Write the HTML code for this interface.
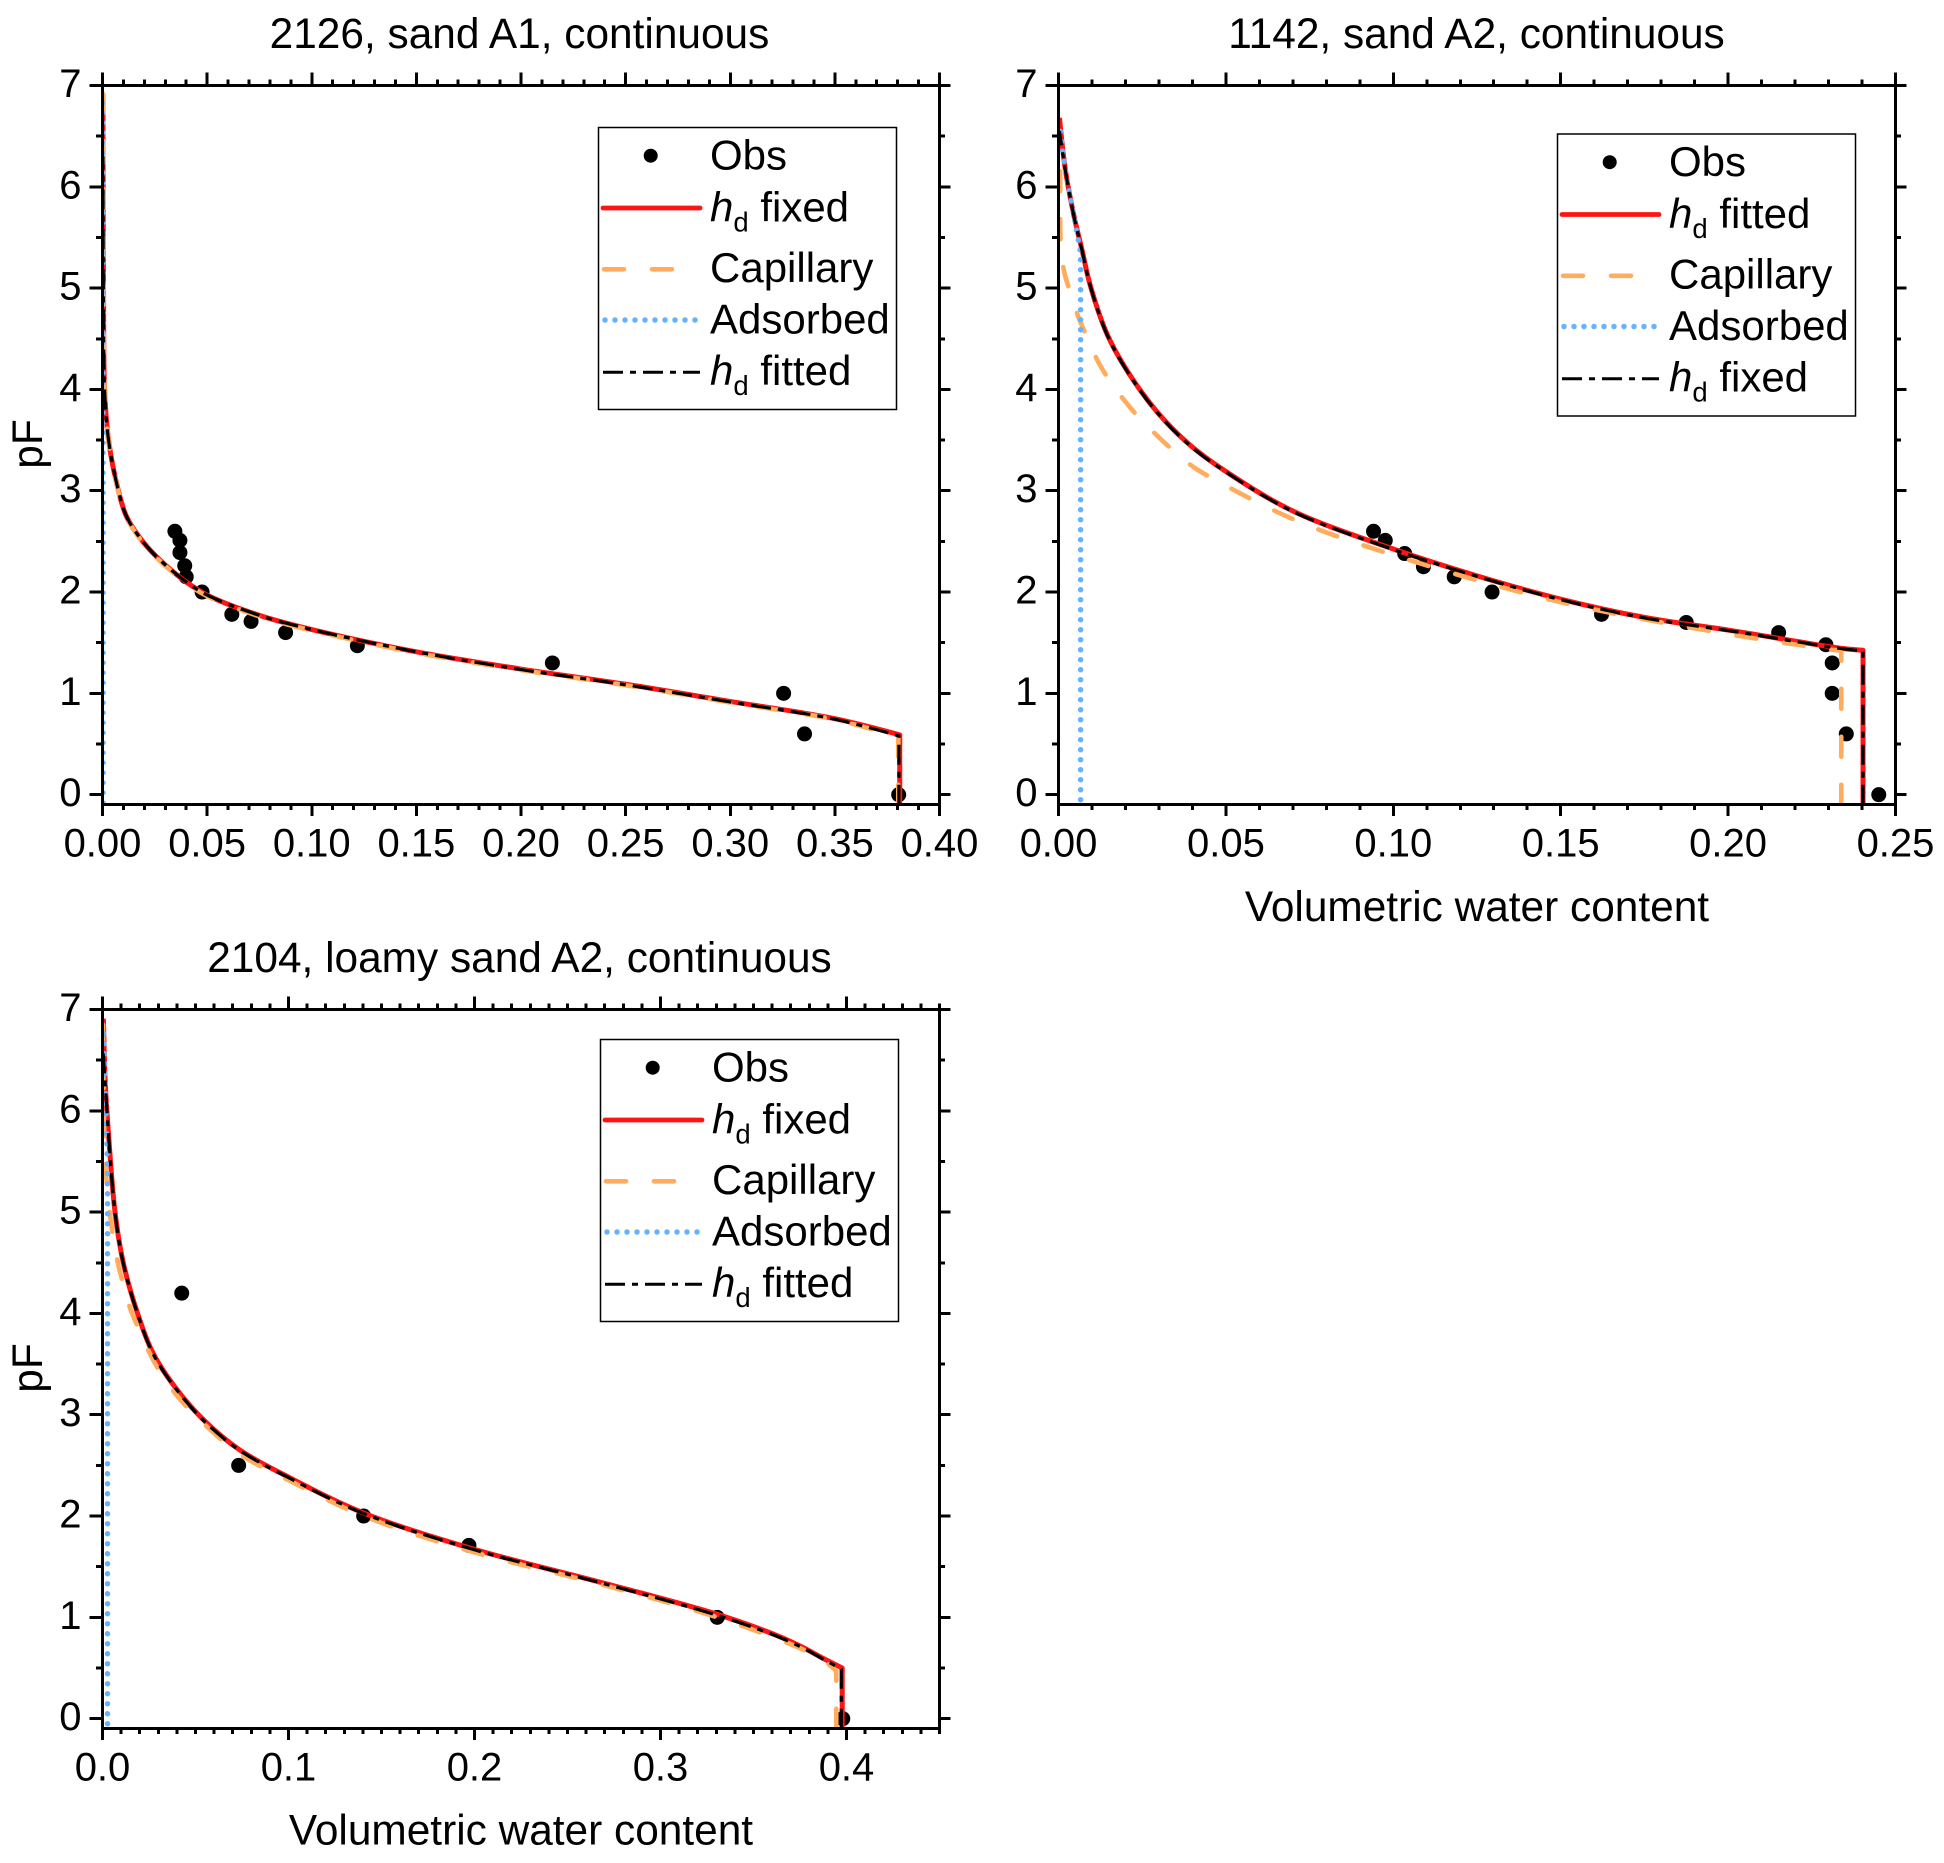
<!DOCTYPE html>
<html lang="en">
<head>
<meta charset="utf-8">
<title>Water retention curves</title>
<style>
html,body{margin:0;padding:0;background:#fff;}
svg{display:block;font-family:"Liberation Sans",Arial,sans-serif;fill:#000;}
text{white-space:pre;}
</style>
</head>
<body>
<svg id="chart" xmlns="http://www.w3.org/2000/svg" width="1944" height="1863" viewBox="0 0 1944 1863">
  <rect x="0" y="0" width="1944" height="1863" fill="#fff"/>

  <text x="519.5" y="48" font-size="42.4" text-anchor="middle">2126, sand A1, continuous</text>
  <text x="1476.5" y="48" font-size="42.4" text-anchor="middle">1142, sand A2, continuous</text>
  <text x="519.5" y="972" font-size="42.4" text-anchor="middle">2104, loamy sand A2, continuous</text>

  <text transform="translate(41.8 444) rotate(-90)" font-size="42.4" text-anchor="middle">pF</text>
  <text transform="translate(41.8 1368) rotate(-90)" font-size="42.4" text-anchor="middle">pF</text>
  <text x="1477" y="921" font-size="42.4" text-anchor="middle">Volumetric water content</text>
  <text x="521" y="1844.5" font-size="42.4" text-anchor="middle">Volumetric water content</text>

  <g id="plots"></g>

  <g>
    <rect x="598.5" y="127.5" width="298" height="282" fill="#fff" stroke="#000" stroke-width="1.5"/>
    <circle cx="650.7" cy="155.7" r="7" fill="#000"/>
    <text x="710" y="169.5" font-size="42">Obs</text>
    <line x1="603" x2="700" y1="208" y2="208" stroke="#ff1414" stroke-width="4.8" stroke-linecap="round"/>
    <text x="710" y="221.5" font-size="42"><tspan font-style="italic">h</tspan><tspan font-size="27.5" dy="10">d</tspan><tspan dy="-10"> fixed</tspan></text>
    <line x1="604" x2="700" y1="269.3" y2="269.3" stroke="#ffac5c" stroke-width="4.6" stroke-linecap="round" stroke-dasharray="20 28"/>
    <text x="710" y="282" font-size="42">Capillary</text>
    <line x1="605" x2="698" y1="320" y2="320" stroke="#66b2ff" stroke-width="5.5" stroke-linecap="round" stroke-dasharray="0 10"/>
    <text x="710" y="333.5" font-size="42">Adsorbed</text>
    <line x1="603" x2="700" y1="372.3" y2="372.3" stroke="#000" stroke-width="3" stroke-dasharray="20 7 6 7"/>
    <text x="710" y="385" font-size="42"><tspan font-style="italic">h</tspan><tspan font-size="27.5" dy="10">d</tspan><tspan dy="-10"> fitted</tspan></text>
  </g>

  <g transform="translate(959 6.5)">
    <rect x="598.5" y="127.5" width="298" height="282" fill="#fff" stroke="#000" stroke-width="1.5"/>
    <circle cx="650.7" cy="155.7" r="7" fill="#000"/>
    <text x="710" y="169.5" font-size="42">Obs</text>
    <line x1="603" x2="700" y1="208" y2="208" stroke="#ff1414" stroke-width="4.8" stroke-linecap="round"/>
    <text x="710" y="221.5" font-size="42"><tspan font-style="italic">h</tspan><tspan font-size="27.5" dy="10">d</tspan><tspan dy="-10"> fitted</tspan></text>
    <line x1="604" x2="700" y1="269.3" y2="269.3" stroke="#ffac5c" stroke-width="4.6" stroke-linecap="round" stroke-dasharray="20 28"/>
    <text x="710" y="282" font-size="42">Capillary</text>
    <line x1="605" x2="698" y1="320" y2="320" stroke="#66b2ff" stroke-width="5.5" stroke-linecap="round" stroke-dasharray="0 10"/>
    <text x="710" y="333.5" font-size="42">Adsorbed</text>
    <line x1="603" x2="700" y1="372.3" y2="372.3" stroke="#000" stroke-width="3" stroke-dasharray="20 7 6 7"/>
    <text x="710" y="385" font-size="42"><tspan font-style="italic">h</tspan><tspan font-size="27.5" dy="10">d</tspan><tspan dy="-10"> fixed</tspan></text>
  </g>

  <g transform="translate(2 912)">
    <rect x="598.5" y="127.5" width="298" height="282" fill="#fff" stroke="#000" stroke-width="1.5"/>
    <circle cx="650.7" cy="155.7" r="7" fill="#000"/>
    <text x="710" y="169.5" font-size="42">Obs</text>
    <line x1="603" x2="700" y1="208" y2="208" stroke="#ff1414" stroke-width="4.8" stroke-linecap="round"/>
    <text x="710" y="221.5" font-size="42"><tspan font-style="italic">h</tspan><tspan font-size="27.5" dy="10">d</tspan><tspan dy="-10"> fixed</tspan></text>
    <line x1="604" x2="700" y1="269.3" y2="269.3" stroke="#ffac5c" stroke-width="4.6" stroke-linecap="round" stroke-dasharray="20 28"/>
    <text x="710" y="282" font-size="42">Capillary</text>
    <line x1="605" x2="698" y1="320" y2="320" stroke="#66b2ff" stroke-width="5.5" stroke-linecap="round" stroke-dasharray="0 10"/>
    <text x="710" y="333.5" font-size="42">Adsorbed</text>
    <line x1="603" x2="700" y1="372.3" y2="372.3" stroke="#000" stroke-width="3" stroke-dasharray="20 7 6 7"/>
    <text x="710" y="385" font-size="42"><tspan font-style="italic">h</tspan><tspan font-size="27.5" dy="10">d</tspan><tspan dy="-10"> fitted</tspan></text>
  </g>
</svg>

<script>
/* ---------- Data: tick labels ---------- */
const pfTicks = [0, 1, 2, 3, 4, 5, 6, 7];
const a1ThetaTicks = ["0.00", "0.05", "0.10", "0.15", "0.20", "0.25", "0.30", "0.35", "0.40"];
const a2ThetaTicks = ["0.00", "0.05", "0.10", "0.15", "0.20", "0.25"];
const lsThetaTicks = ["0.0", "0.1", "0.2", "0.3", "0.4"];

/* ---------- Data: 2126 sand A1 ---------- */
const a1ObsTheta = [0.0346, 0.037, 0.037, 0.0393, 0.04, 0.0476, 0.0618, 0.071, 0.0875, 0.1218, 0.215, 0.3255, 0.3355, 0.3805];
const a1ObsPf = [2.6, 2.51, 2.39, 2.26, 2.15, 2.0, 1.78, 1.71, 1.6, 1.47, 1.3, 1.0, 0.6, 0];
const a1FixedTheta = [0.381, 0.381, 0.35, 0.30, 0.25, 0.20, 0.15, 0.10, 0.075, 0.05, 0.04, 0.0283, 0.0196, 0.0116, 0.0076, 0.0029, 0.001, 0.0005, 0.0003, 0.0002];
const a1FixedPf = [-0.1, 0.59, 0.75, 0.92, 1.09, 1.24, 1.41, 1.63, 1.77, 1.97, 2.1, 2.3, 2.49, 2.74, 3.0, 3.5, 4.0, 5.0, 6.0, 6.92];
const a1CapTheta = [0.3803, 0.3803, 0.35, 0.30, 0.25, 0.20, 0.15, 0.10, 0.075, 0.05, 0.04, 0.0283, 0.0196, 0.0116, 0.0076, 0.0029, 0.001, 0.0005, 0.0003, 0.0002];
const a1CapPf = [-0.1, 0.57, 0.74, 0.91, 1.08, 1.23, 1.4, 1.62, 1.76, 1.96, 2.09, 2.29, 2.48, 2.73, 2.99, 3.5, 4.0, 5.0, 6.0, 6.92];
const a1AdsTheta = [0.0005, 0.0005, 0.0004, 0.0003];
const a1AdsPf = [-0.08, 4.0, 6.0, 6.92];
const a1FittedTheta = [0.3806, 0.3806, 0.35, 0.30, 0.25, 0.20, 0.15, 0.10, 0.075, 0.05, 0.04, 0.0283, 0.0196, 0.0116, 0.0076, 0.0029, 0.001, 0.0004, 0.0002];
const a1FittedPf = [-0.1, 0.58, 0.745, 0.915, 1.085, 1.235, 1.41, 1.63, 1.77, 1.97, 2.1, 2.3, 2.49, 2.74, 3.0, 3.5, 4.0, 5.0, 6.3];

/* ---------- Data: 1142 sand A2 ---------- */
const a2ObsTheta = [0.0941, 0.0976, 0.1034, 0.109, 0.1182, 0.1295, 0.1622, 0.1875, 0.2151, 0.2292, 0.2311, 0.2311, 0.2353, 0.245];
const a2ObsPf = [2.6, 2.51, 2.38, 2.25, 2.15, 2.0, 1.78, 1.7, 1.6, 1.48, 1.3, 1.0, 0.6, 0];
const a2FittedTheta = [0.2403, 0.2403, 0.2343, 0.2214, 0.2095, 0.20, 0.175, 0.15, 0.125, 0.10, 0.07, 0.05, 0.0393, 0.0294, 0.0204, 0.01445, 0.00946, 0.007, 0.0045, 0.002, 0.0003];
const a2FittedPf = [-0.1, 1.426, 1.443, 1.508, 1.574, 1.625, 1.75, 1.93, 2.16, 2.425, 2.8, 3.19, 3.45, 3.78, 4.19, 4.55, 5.03, 5.38, 5.73, 6.18, 6.68];
const a2CapTheta = [0.2338, 0.2338, 0.2294, 0.2214, 0.2155, 0.20, 0.15, 0.10, 0.07, 0.0461, 0.0405, 0.0345, 0.0299, 0.0241, 0.0202, 0.0152, 0.0119, 0.0085, 0.006, 0.0035, 0.0017, 0.0007, 0.0005, 0.0003];
const a2CapPf = [-0.1, 1.42, 1.436, 1.476, 1.505, 1.585, 1.9, 2.365, 2.72, 3.12, 3.23, 3.39, 3.53, 3.72, 3.87, 4.09, 4.27, 4.52, 4.71, 4.96, 5.16, 5.42, 6.11, 6.55];
const a2AdsTheta = [0.0066, 0.0066, 0.0045, 0.002, 0.0003];
const a2AdsPf = [-0.05, 5.35, 5.73, 6.18, 6.62];
const a2FixedTheta = [0.2403, 0.2403, 0.2343, 0.2214, 0.2095, 0.20, 0.175, 0.15, 0.125, 0.10, 0.07, 0.05, 0.0393, 0.0294, 0.0204, 0.01445, 0.00946, 0.007, 0.0045, 0.002, 0.0003];
const a2FixedPf = [-0.1, 1.42, 1.44, 1.505, 1.57, 1.62, 1.745, 1.925, 2.155, 2.42, 2.795, 3.185, 3.445, 3.775, 4.185, 4.545, 5.025, 5.375, 5.725, 6.17, 6.55];

/* ---------- Data: 2104 loamy sand A2 ---------- */
const lsObsTheta = [0.0426, 0.0732, 0.1404, 0.197, 0.3305, 0.398];
const lsObsPf = [4.2, 2.5, 2.0, 1.71, 1.0, 0];
const lsFixedTheta = [0.3977, 0.3977, 0.3877, 0.3769, 0.3644, 0.3305, 0.267, 0.2003, 0.1404, 0.1005, 0.0732, 0.0543, 0.0391, 0.0274, 0.0194, 0.0113, 0.0068, 0.0032, 0.0015, 0.0005];
const lsFixedPf = [-0.1, 0.5, 0.593, 0.7, 0.807, 1.03, 1.35, 1.67, 2.03, 2.38, 2.66, 2.95, 3.27, 3.6, 3.97, 4.49, 4.99, 5.78, 6.27, 6.91];
const lsCapTheta = [0.3945, 0.3945, 0.3887, 0.3769, 0.3305, 0.267, 0.2003, 0.1404, 0.1005, 0.0732, 0.0468, 0.0391, 0.031, 0.0253, 0.0194, 0.0149, 0.011, 0.0081, 0.0056, 0.0041, 0.0017, 0.0008, 0.0005, 0.0003];
const lsCapPf = [-0.1, 0.47, 0.56, 0.68, 1.0, 1.33, 1.64, 2.0, 2.35, 2.62, 3.05, 3.21, 3.42, 3.61, 3.85, 4.05, 4.3, 4.51, 4.77, 4.97, 5.43, 5.9, 6.3, 6.85];
const lsAdsTheta = [0.0027, 0.0027, 0.0015, 0.0005];
const lsAdsPf = [-0.05, 5.44, 6.27, 6.85];
const lsFittedTheta = [0.3972, 0.3972, 0.3877, 0.3769, 0.3644, 0.3305, 0.267, 0.2003, 0.1404, 0.1005, 0.0732, 0.0543, 0.0391, 0.0274, 0.0194, 0.0113, 0.0068, 0.0032, 0.0015, 0.0002];
const lsFittedPf = [-0.1, 0.49, 0.585, 0.695, 0.8, 1.02, 1.345, 1.665, 2.025, 2.375, 2.655, 2.945, 3.265, 3.595, 3.965, 4.485, 4.985, 5.775, 6.265, 6.6];

/* ---------- Layout ---------- */
const svgNS = 'http://www.w3.org/2000/svg';
const plots = document.getElementById('plots');

function make(tag, attrs, parent) {
  const el = document.createElementNS(svgNS, tag);
  for (const key in attrs) el.setAttribute(key, attrs[key]);
  parent.appendChild(el);
  return el;
}

function drawTick(group, x1, y1, x2, y2) {
  const tick = make('line', {x1: x1, y1: y1, x2: x2, y2: y2, stroke: '#000', 'stroke-width': 3, 'shape-rendering': 'crispEdges'}, group);
  
  
}

/* straight run down to the first corner, then a centripetal Catmull-Rom through the read points */
function curvePath(points) {
  let d = 'M' + points[0][0].toFixed(2) + ' ' + points[0][1].toFixed(2) + 'L' + points[1][0].toFixed(2) + ' ' + points[1][1].toFixed(2);
  const dist = (a, b) => Math.pow(Math.hypot(a[0] - b[0], a[1] - b[1]), 0.5) || 1e-6;
  for (let i = 1; i < points.length - 1; i++) {
    const p1 = points[i];
    const p2 = points[i + 1];
    const p0 = i > 1 ? points[i - 1] : p1;
    const p3 = i + 2 < points.length ? points[i + 2] : p2;
    const d1 = dist(p0, p1);
    const d2 = dist(p1, p2);
    const d3 = dist(p2, p3);
    let c1 = p1.slice();
    let c2 = p2.slice();
    if (p0 !== p1) {
      const a = 2 * d1 * d1 + 3 * d1 * d2 + d2 * d2;
      const n = 3 * d1 * (d1 + d2);
      c1 = [(a * p1[0] - d2 * d2 * p0[0] + d1 * d1 * p2[0]) / n, (a * p1[1] - d2 * d2 * p0[1] + d1 * d1 * p2[1]) / n];
    }
    if (p3 !== p2) {
      const b = 2 * d3 * d3 + 3 * d3 * d2 + d2 * d2;
      const m = 3 * d3 * (d3 + d2);
      c2 = [(b * p2[0] - d2 * d2 * p3[0] + d3 * d3 * p1[0]) / m, (b * p2[1] - d2 * d2 * p3[1] + d3 * d3 * p1[1]) / m];
    }
    d += 'C' + c1[0].toFixed(2) + ' ' + c1[1].toFixed(2) + ' ' + c2[0].toFixed(2) + ' ' + c2[1].toFixed(2) + ' ' + p2[0].toFixed(2) + ' ' + p2[1].toFixed(2);
  }
  return d;
}

function drawPlot(p) {
  const group = make('g', {}, plots);
  
  

  const xScale = v => p.left + (v - p.xMin) / (p.xMax - p.xMin) * (p.right - p.left);
  const yScale = v => p.bottom - (v - p.yMin) / (p.yMax - p.yMin) * (p.bottom - p.top);

  const clipId = 'clip-' + p.id;
  const defs = make('defs', {}, group);
  const clip = make('clipPath', {id: clipId}, defs);
  make('rect', {x: p.left, y: p.top, width: p.right - p.left, height: p.bottom - p.top + 1.5}, clip);

  /* observation dots sit beneath the curves */
  const obsGroup = make('g', {}, group);
  
  
  p.obsTheta.forEach((theta, i) => {
    const dot = make('circle', {cx: xScale(theta), cy: yScale(p.obsPf[i]), r: 7.5, fill: '#000'}, obsGroup);
    
    
  });

  p.series.forEach(s => {
    const pts = s.theta.map((theta, i) => [xScale(theta), yScale(s.pf[i])]);
    const line = make('path', {
      d: curvePath(pts),
      fill: 'none',
      stroke: s.color,
      'stroke-width': s.width,
      'stroke-linecap': s.cap,
      'stroke-linejoin': 'round',
      'stroke-dasharray': s.dash,
      'clip-path': 'url(#' + clipId + ')'
    }, group);
    
    
  });

  /* frame */
  const frame = make('rect', {
    x: p.left, y: p.top, width: p.right - p.left, height: p.bottom - p.top,
    fill: 'none', stroke: '#000', 'stroke-width': 3, 'shape-rendering': 'crispEdges'
  }, group);
  
  

  /* x ticks */
  const xMinorCount = Math.round((p.xMax - p.xMin) / p.xMinorStep);
  for (let i = 0; i <= xMinorCount; i++) {
    const value = p.xMin + i * p.xMinorStep;
    const x = xScale(value);
    const isMajor = i % p.xMinorPerMajor === 0;
    drawTick(group, x, p.top, x, p.top - (isMajor ? 13 : 6));
    drawTick(group, x, p.bottom, x, p.bottom + (isMajor ? 11.7 : 5.7));
  }
  p.xLabels.forEach(label => {
    const t = make('text', {x: xScale(parseFloat(label)), y: p.bottom + 52, 'font-size': 40, 'text-anchor': 'middle'}, group);
    t.textContent = label;
    
    
  });

  /* y ticks */
  for (let v = 0; v <= 14; v++) {
    const y = yScale(v / 2);
    const isMajor = v % 2 === 0;
    drawTick(group, p.left, y, p.left - (isMajor ? 13 : 6.3), y);
    drawTick(group, p.right, y, p.right + (isMajor ? 11 : 5.5), y);
  }
  pfTicks.forEach(v => {
    const t = make('text', {x: p.left - 21, y: yScale(v) + 11.5, 'font-size': 40, 'text-anchor': 'end'}, group);
    t.textContent = String(v);
    
    
  });
}

const solid = 'none';
const capDash = '20 28';
const adsDash = '0 10';
const fitDash = '20 7 6 7';

drawPlot({
  id: '2126', left: 102.5, right: 939.5, top: 85.5, bottom: 804.5,
  xMin: 0, xMax: 0.4, yMin: -0.097, yMax: 7, xMinorStep: 0.01, xMinorPerMajor: 5,
  xLabels: a1ThetaTicks, obsTheta: a1ObsTheta, obsPf: a1ObsPf,
  series: [
    {name: 'hd-fixed', theta: a1FixedTheta, pf: a1FixedPf, color: '#ff1414', width: 5, cap: 'butt', dash: solid},
    {name: 'capillary', theta: a1CapTheta, pf: a1CapPf, color: '#ffac5c', width: 4.6, cap: 'round', dash: capDash},
    {name: 'adsorbed', theta: a1AdsTheta, pf: a1AdsPf, color: '#66b2ff', width: 4.6, cap: 'round', dash: adsDash},
    {name: 'hd-fitted', theta: a1FittedTheta, pf: a1FittedPf, color: '#000', width: 3.2, cap: 'butt', dash: fitDash}
  ]
});

drawPlot({
  id: '1142', left: 1058.5, right: 1895.5, top: 85.5, bottom: 804.5,
  xMin: 0, xMax: 0.25, yMin: -0.097, yMax: 7, xMinorStep: 0.01, xMinorPerMajor: 5,
  xLabels: a2ThetaTicks, obsTheta: a2ObsTheta, obsPf: a2ObsPf,
  series: [
    {name: 'hd-fitted', theta: a2FittedTheta, pf: a2FittedPf, color: '#ff1414', width: 5, cap: 'butt', dash: solid},
    {name: 'capillary', theta: a2CapTheta, pf: a2CapPf, color: '#ffac5c', width: 4.6, cap: 'round', dash: capDash},
    {name: 'adsorbed', theta: a2AdsTheta, pf: a2AdsPf, color: '#66b2ff', width: 5.5, cap: 'round', dash: adsDash},
    {name: 'hd-fixed', theta: a2FixedTheta, pf: a2FixedPf, color: '#000', width: 3.2, cap: 'butt', dash: fitDash}
  ]
});

drawPlot({
  id: '2104', left: 102.5, right: 939.5, top: 1009.5, bottom: 1728.5,
  xMin: 0, xMax: 0.45, yMin: -0.097, yMax: 7, xMinorStep: 0.01, xMinorPerMajor: 10,
  xLabels: lsThetaTicks, obsTheta: lsObsTheta, obsPf: lsObsPf,
  series: [
    {name: 'hd-fixed', theta: lsFixedTheta, pf: lsFixedPf, color: '#ff1414', width: 5, cap: 'butt', dash: solid},
    {name: 'capillary', theta: lsCapTheta, pf: lsCapPf, color: '#ffac5c', width: 4.6, cap: 'round', dash: capDash},
    {name: 'adsorbed', theta: lsAdsTheta, pf: lsAdsPf, color: '#66b2ff', width: 5.5, cap: 'round', dash: adsDash},
    {name: 'hd-fitted', theta: lsFittedTheta, pf: lsFittedPf, color: '#000', width: 3.2, cap: 'butt', dash: fitDash}
  ]
});
</script>
</body>
</html>
